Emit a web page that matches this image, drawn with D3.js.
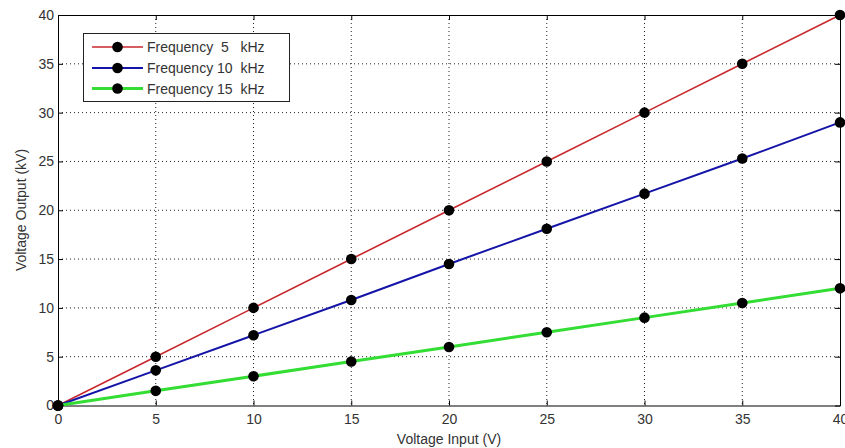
<!DOCTYPE html>
<html><head><meta charset="utf-8">
<script src="https://cdn.jsdelivr.net/npm/d3@7"></script>
<style>
html,body{margin:0;padding:0;background:#fff;}
text{font-family:"Liberation Sans",Arial,sans-serif;}
</style></head>
<body><svg id="c" width="845" height="448"></svg>
<script>
const xValues = [0, 5, 10, 15, 20, 25, 30, 35, 40];
const series5k = [0, 5, 10, 15, 20, 25, 30, 35, 40];
const series10k = [0, 3.6, 7.2, 10.8, 14.5, 18.1, 21.7, 25.3, 29];
const series15k = [0, 1.5, 3, 4.5, 6, 7.5, 9, 10.5, 12];
const seriesNames = ["Frequency  5   kHz", "Frequency 10  kHz", "Frequency 15  kHz"];
const seriesColors = ["#c8282e", "#1414a8", "#33dd33"];
const seriesWidths = [1.6, 2, 3];
const xTicks = [0, 5, 10, 15, 20, 25, 30, 35, 40];
const yTicks = [0, 5, 10, 15, 20, 25, 30, 35, 40];

const svg = d3.select("#c");
const L = 58, R = 840, T = 15, B = 405.5;
const x = d3.scaleLinear().domain([0, 40]).range([L, R]);
const y = d3.scaleLinear().domain([0, 40]).range([B, T]);
const FS = "14px";

// grid
const grid = svg.append("g");
grid.selectAll(".gx").data(xTicks.slice(1, -1)).enter().append("line")
  .attr("x1", d => x(d)).attr("x2", d => x(d)).attr("y1", T).attr("y2", B)
  .attr("stroke", "#222").attr("stroke-width", 1).attr("stroke-dasharray", "1,3");
grid.selectAll(".gy").data(yTicks.slice(1, -1)).enter().append("line")
  .attr("y1", d => y(d)).attr("y2", d => y(d)).attr("x1", L).attr("x2", R)
  .attr("stroke", "#222").attr("stroke-width", 1).attr("stroke-dasharray", "1,3");

// axes
const fmt = d3.format("d");
const ax = svg.append("g").attr("transform", `translate(0,${B})`)
  .call(d3.axisBottom(x).tickValues(xTicks).tickSizeInner(-5).tickSizeOuter(0).tickPadding(9).tickFormat(fmt));
const ay = svg.append("g").attr("transform", `translate(${L},0)`)
  .call(d3.axisLeft(y).tickValues(yTicks).tickSizeInner(-5).tickSizeOuter(0).tickPadding(4).tickFormat(fmt));
const axT = svg.append("g").attr("transform", `translate(0,${T})`)
  .call(d3.axisTop(x).tickValues(xTicks).tickSizeInner(-5).tickSizeOuter(0).tickFormat(""));
const ayR = svg.append("g").attr("transform", `translate(${R},0)`)
  .call(d3.axisRight(y).tickValues(yTicks).tickSizeInner(-5).tickSizeOuter(0).tickFormat(""));
[ax, ay, axT, ayR].forEach(g => {
  g.select(".domain").attr("stroke", "#000").attr("stroke-width", 1);
  g.selectAll(".tick line").attr("stroke", "#000");
  g.selectAll(".tick text").attr("fill", "#333").style("font-size", FS)
    .style("font-family", "'Liberation Sans', Arial, sans-serif");
});

// lines
const allSeries = [series5k, series10k, series15k];
const line = d3.line().x((d, i) => x(xValues[i])).y(d => y(d));
allSeries.forEach((s, k) => {
  svg.append("path").datum(s).attr("d", line).attr("fill", "none")
    .attr("stroke", seriesColors[k]).attr("stroke-width", seriesWidths[k]);
});
allSeries.forEach((s, k) => {
  svg.append("g").selectAll("circle").data(s).enter().append("circle")
    .attr("cx", (d, i) => x(xValues[i])).attr("cy", d => y(d)).attr("r", 5.3).attr("fill", "#000");
});

// legend
const lg = svg.append("g");
lg.append("rect").attr("x", 83.5).attr("y", 33.5).attr("width", 206).attr("height", 68)
  .attr("fill", "#fff").attr("stroke", "#222").attr("stroke-width", 1);
const ly = [47, 68, 88.5];
seriesNames.forEach((n, k) => {
  lg.append("line").attr("x1", 92).attr("x2", 143).attr("y1", ly[k]).attr("y2", ly[k])
    .attr("stroke", seriesColors[k]).attr("stroke-width", seriesWidths[k]);
  lg.append("circle").attr("cx", 117.5).attr("cy", ly[k]).attr("r", 5.3).attr("fill", "#000");
  lg.append("text").attr("x", 147).attr("y", ly[k] + 5).attr("fill", "#333")
    .style("font-size", FS).style("white-space", "pre").text(n);
});

// axis labels
svg.append("text").attr("x", 449).attr("y", 444).attr("text-anchor", "middle")
  .attr("fill", "#333").style("font-size", FS).text("Voltage Input (V)");
svg.append("text").attr("transform", "translate(26,210) rotate(-90)").attr("text-anchor", "middle")
  .attr("fill", "#333").style("font-size", FS).text("Voltage Output (kV)");
</script></body></html>
